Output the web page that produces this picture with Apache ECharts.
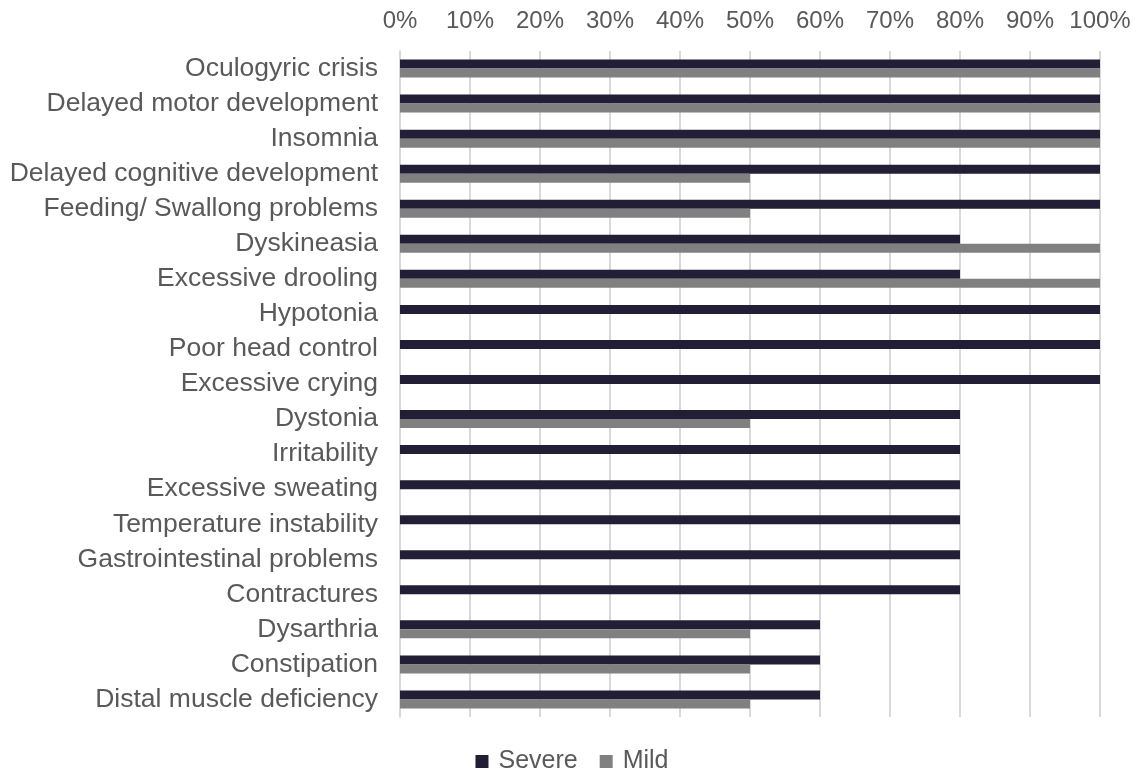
<!DOCTYPE html>
<html><head><meta charset="utf-8">
<script src="https://cdn.jsdelivr.net/npm/echarts@6/dist/echarts.min.js"></script>
<style>html,body{margin:0;padding:0;background:#fff}#c{width:1144px;height:782px}</style>
</head><body><div id="c"></div>
<script>
const categories = ["Oculogyric crisis","Delayed motor development","Insomnia","Delayed cognitive development","Feeding/ Swallong problems","Dyskineasia","Excessive drooling","Hypotonia","Poor head control","Excessive crying","Dystonia","Irritability","Excessive sweating","Temperature instability","Gastrointestinal problems","Contractures","Dysarthria","Constipation","Distal muscle deficiency"];
const severe = [100,100,100,100,100,80,80,100,100,100,80,80,80,80,80,80,60,60,60];
const mild   = [100,100,100,50,50,100,100,0,0,0,50,0,0,0,0,0,50,50,50];
const xTicks = [0,10,20,30,40,50,60,70,80,90,100];

const chart = echarts.init(document.getElementById('c'), null, {renderer:'canvas'});
const font = 'Liberation Sans, Arial, sans-serif';
chart.setOption({
  animation:false,
  textStyle:{fontFamily:font},
  grid:{left:400,right:44,top:51,bottom:65,containLabel:false},
  legend:{bottom:3,left:'center',itemWidth:13,itemHeight:13,itemGap:22,icon:'rect',
    textStyle:{fontSize:25,color:'#595959',fontFamily:font,padding:[2,0,0,5]},data:['Severe','Mild']},
  xAxis:{type:'value',position:'top',min:xTicks[0],max:xTicks[xTicks.length-1],interval:10,
    axisLine:{show:false},axisTick:{show:false},
    axisLabel:{formatter:v=>v+'%',fontSize:24,color:'#595959',margin:18,fontFamily:font},
    splitLine:{lineStyle:{color:'#d9d9d9',width:2}}},
  yAxis:{type:'category',data:categories,inverse:true,
    axisLine:{show:true,lineStyle:{color:'#d9d9d9',width:2}},axisTick:{show:false},
    axisLabel:{interval:0,fontSize:26.5,color:'#595959',margin:22,fontFamily:font}},
  series:[
    {name:'Severe',type:'bar',data:severe,barWidth:9,barGap:'0%',itemStyle:{color:'#221e35'}},
    {name:'Mild',type:'bar',data:mild,barWidth:9,itemStyle:{color:'#808080'}}
  ]
});
</script></body></html>
